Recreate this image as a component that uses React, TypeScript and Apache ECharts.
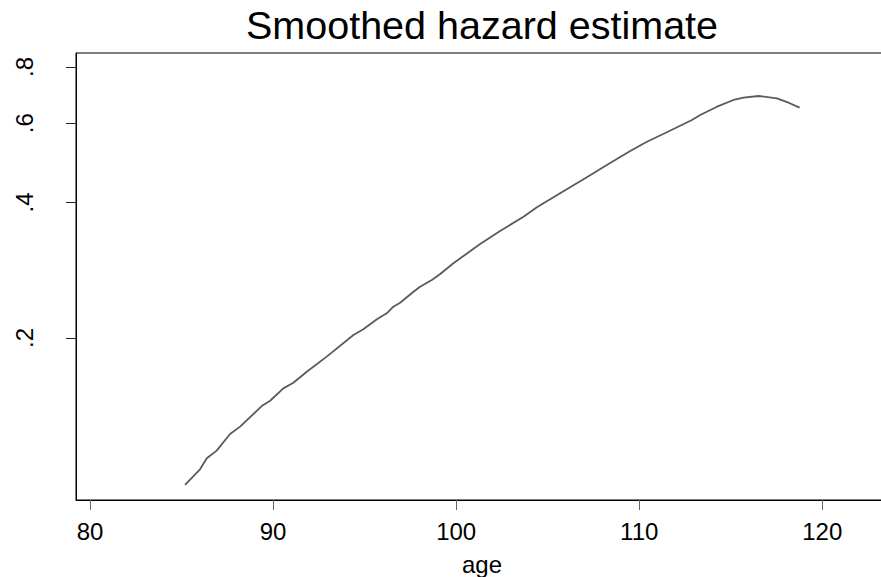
import React, { useEffect, useRef } from 'react';
import * as echarts from 'echarts';

const ages = [85.19, 86.01, 86.38, 86.92, 87.65, 88.2, 89.38, 89.84, 90.56, 91.11, 91.84, 92.93, 94.39, 94.93, 95.67, 96.21, 96.57, 96.94, 97.67, 98.03, 98.67, 99.13, 99.85, 101.31, 102.4, 103.68, 104.41, 105.86, 107.05, 108.23, 109.51, 110.42, 111.51, 112.88, 113.33, 114.25, 115.15, 115.7, 116.52, 117.52, 118.16, 118.76];
const hazard = [0.0943, 0.1022, 0.1081, 0.1124, 0.1224, 0.1271, 0.1412, 0.1451, 0.1546, 0.1591, 0.1683, 0.1818, 0.2031, 0.2091, 0.2201, 0.2269, 0.2347, 0.2396, 0.2534, 0.26, 0.2691, 0.2775, 0.2931, 0.3235, 0.3457, 0.372, 0.3903, 0.4236, 0.4527, 0.4846, 0.5205, 0.5459, 0.5728, 0.61, 0.6258, 0.6529, 0.6757, 0.6837, 0.6897, 0.6816, 0.6664, 0.6496];
const xTicks = [80, 90, 100, 110, 120];
const yTicks = [0.2, 0.4, 0.6, 0.8];
const yTickLabels = ['.2', '.4', '.6', '.8'];
const titleText = 'Smoothed hazard estimate';
const xTitle = 'age';

export default function App() {
  const ref = useRef<HTMLDivElement>(null);
  useEffect(() => {
    const chart = echarts.init(ref.current as HTMLDivElement, null, { renderer: 'svg' });
    const font = "'Liberation Sans', Arial, Helvetica, sans-serif";
    const yLog = yTicks.map((t) => Math.log(t));
    chart.setOption({
      animation: false,
      backgroundColor: '#ffffff',
      graphic: [
        {
          type: 'text',
          x: 482,
          y: 25,
          style: {
            text: titleText,
            fontSize: 39.5,
            fontFamily: font,
            fill: '#000',
            textAlign: 'center',
            textVerticalAlign: 'middle',
          },
        },
      ],
      grid: {
        left: 76,
        right: -7,
        top: 53,
        bottom: 77,
        show: true,
        borderColor: '#000',
        borderWidth: 1,
        containLabel: false,
        outerBoundsMode: 'none',
      },
      xAxis: {
        type: 'value',
        min: 79.235,
        max: 123.59,
        name: xTitle,
        nameLocation: 'middle',
        nameGap: 52,
        nameTextStyle: { fontSize: 24, fontFamily: font, color: '#000' },
        axisLine: { show: true, lineStyle: { color: '#000', width: 1 } },
        axisTick: { show: true, customValues: xTicks, length: 10, lineStyle: { color: '#666' } },
        axisLabel: { customValues: xTicks, margin: 19, fontSize: 24, fontFamily: font, color: '#000' },
        splitLine: { show: false },
      },
      yAxis: {
        type: 'value',
        min: Math.log(0.08733),
        max: Math.log(0.8593),
        axisLine: { show: true, lineStyle: { color: '#000', width: 1 } },
        axisTick: { show: true, customValues: yLog, length: 10, lineStyle: { color: '#222' } },
        axisLabel: {
          customValues: yLog,
          rotate: 90,
          margin: 40,
          fontSize: 24,
          fontFamily: font,
          color: '#000',
          formatter: (v: number) => {
            const i = yLog.findIndex((t) => Math.abs(t - v) < 1e-6);
            return i >= 0 ? yTickLabels[i] : '';
          },
        },
        splitLine: { show: false },
      },
      series: [
        {
          type: 'line',
          data: ages.map((a, i) => [a, Math.log(hazard[i])]),
          symbol: 'none',
          showSymbol: false,
          lineStyle: { color: '#5a5a5a', width: 1.8 },
        },
      ],
    });
    return () => chart.dispose();
  }, []);
  return <div ref={ref} style={{ position: 'fixed', left: 0, top: 0, width: 881, height: 577 }} />;
}
